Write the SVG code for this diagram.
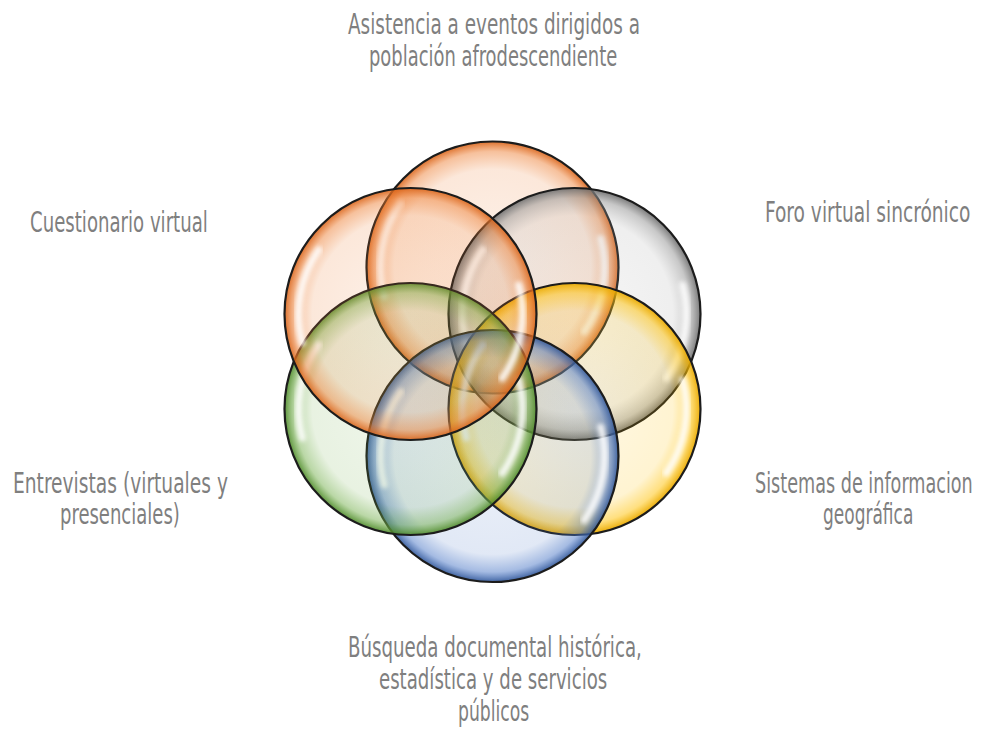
<svg xmlns="http://www.w3.org/2000/svg" width="982" height="730" viewBox="0 0 982 730">
  <style>
    .lbl { font-family: "Liberation Sans Narrow", "DejaVu Sans Condensed", "Arial Narrow", sans-serif; font-size: 25px; fill: #7f7f7f; font-stretch: condensed; }
    .rim { fill: none; stroke: #1c1c1c; stroke-width: 2.2; }
    .hl { fill: none; stroke: #ffffff; stroke-width: 7; stroke-linecap: round; opacity: 0.85; filter: url(#soft); }
  </style>
  <defs>
    <filter id="soft" x="-20%" y="-20%" width="140%" height="140%">
      <feGaussianBlur stdDeviation="2"/>
    </filter>
    <radialGradient id="gOrange" cx="0.5" cy="0.5" r="0.5">
      <stop offset="0" stop-color="#ED7D31" stop-opacity="0.10"/>
      <stop offset="0.78" stop-color="#ED7D31" stop-opacity="0.18"/>
      <stop offset="0.92" stop-color="#ED7D31" stop-opacity="0.48"/>
      <stop offset="1" stop-color="#D9641A" stop-opacity="0.92"/>
    </radialGradient>
    <radialGradient id="gGray" cx="0.5" cy="0.5" r="0.5">
      <stop offset="0" stop-color="#A5A5A5" stop-opacity="0.10"/>
      <stop offset="0.78" stop-color="#A5A5A5" stop-opacity="0.18"/>
      <stop offset="0.92" stop-color="#8C8C8C" stop-opacity="0.48"/>
      <stop offset="1" stop-color="#6E6E6E" stop-opacity="0.92"/>
    </radialGradient>
    <radialGradient id="gGold" cx="0.5" cy="0.5" r="0.5">
      <stop offset="0" stop-color="#FFC000" stop-opacity="0.10"/>
      <stop offset="0.78" stop-color="#FFC000" stop-opacity="0.18"/>
      <stop offset="0.92" stop-color="#FFC000" stop-opacity="0.5"/>
      <stop offset="1" stop-color="#E8A800" stop-opacity="0.95"/>
    </radialGradient>
    <radialGradient id="gBlue" cx="0.5" cy="0.5" r="0.5">
      <stop offset="0" stop-color="#4472C4" stop-opacity="0.10"/>
      <stop offset="0.78" stop-color="#4472C4" stop-opacity="0.16"/>
      <stop offset="0.92" stop-color="#4472C4" stop-opacity="0.48"/>
      <stop offset="1" stop-color="#2F5597" stop-opacity="0.92"/>
    </radialGradient>
    <radialGradient id="gGreen" cx="0.5" cy="0.5" r="0.5">
      <stop offset="0" stop-color="#70AD47" stop-opacity="0.10"/>
      <stop offset="0.78" stop-color="#70AD47" stop-opacity="0.16"/>
      <stop offset="0.92" stop-color="#70AD47" stop-opacity="0.48"/>
      <stop offset="1" stop-color="#4E8A2A" stop-opacity="0.92"/>
    </radialGradient>
    <path id="hlL" d="M -108.2 29 A 112 112 0 0 1 -91.7 -64.2"/>
    <path id="hlR" d="M 108.2 -29 A 112 112 0 0 1 91.7 64.2"/>
  </defs>

  <g id="n1" transform="translate(492.5 267.5)">
    <circle r="126" fill="url(#gOrange)"/>
    <use href="#hlL" class="hl"/>
    <use href="#hlR" class="hl"/>
    <circle r="126" class="rim"/>
  </g>
  <g id="n2" transform="translate(574.5 314)">
    <circle r="126" fill="url(#gGray)"/>
    <use href="#hlL" class="hl"/>
    <use href="#hlR" class="hl"/>
    <circle r="126" class="rim"/>
  </g>
  <g id="n3" transform="translate(574.5 409)">
    <circle r="126" fill="url(#gGold)"/>
    <use href="#hlL" class="hl"/>
    <use href="#hlR" class="hl"/>
    <circle r="126" class="rim"/>
  </g>
  <g id="n4" transform="translate(492.5 456)">
    <circle r="126" fill="url(#gBlue)"/>
    <use href="#hlL" class="hl"/>
    <use href="#hlR" class="hl"/>
    <circle r="126" class="rim"/>
  </g>
  <g id="n5" transform="translate(410.5 409)">
    <circle r="126" fill="url(#gGreen)"/>
    <use href="#hlL" class="hl"/>
    <use href="#hlR" class="hl"/>
    <circle r="126" class="rim"/>
  </g>
  <g id="n6" transform="translate(410.5 314)">
    <circle r="126" fill="url(#gOrange)"/>
    <use href="#hlL" class="hl"/>
    <use href="#hlR" class="hl"/>
    <circle r="126" class="rim"/>
  </g>

  <g id="connectors"></g>

  <g id="labels">
    <text class="lbl" transform="translate(348 34) scale(0.951 1.16)" textLength="307" lengthAdjust="spacingAndGlyphs">Asistencia a eventos dirigidos a</text>
    <text class="lbl" transform="translate(369 66) scale(0.951 1.16)" textLength="261" lengthAdjust="spacingAndGlyphs">población afrodescendiente</text>
    <text class="lbl" transform="translate(30 232) scale(0.951 1.16)" textLength="187" lengthAdjust="spacingAndGlyphs">Cuestionario virtual</text>
    <text class="lbl" transform="translate(765 222) scale(0.951 1.16)" textLength="216" lengthAdjust="spacingAndGlyphs">Foro virtual sincrónico</text>
    <text class="lbl" transform="translate(13 493) scale(0.951 1.16)" textLength="226" lengthAdjust="spacingAndGlyphs">Entrevistas (virtuales y</text>
    <text class="lbl" transform="translate(60 524) scale(0.951 1.16)" textLength="126" lengthAdjust="spacingAndGlyphs">presenciales)</text>
    <text class="lbl" transform="translate(755 493) scale(0.951 1.16)" textLength="229" lengthAdjust="spacingAndGlyphs">Sistemas de informacion</text>
    <text class="lbl" transform="translate(823 524) scale(0.951 1.16)" textLength="95" lengthAdjust="spacingAndGlyphs">geográfica</text>
    <text class="lbl" transform="translate(348 657) scale(0.951 1.16)" textLength="309" lengthAdjust="spacingAndGlyphs">Búsqueda documental histórica,</text>
    <text class="lbl" transform="translate(379 689) scale(0.951 1.16)" textLength="240" lengthAdjust="spacingAndGlyphs">estadística y de servicios</text>
    <text class="lbl" transform="translate(458 721) scale(0.951 1.16)" textLength="75" lengthAdjust="spacingAndGlyphs">públicos</text>
  </g>
</svg>
